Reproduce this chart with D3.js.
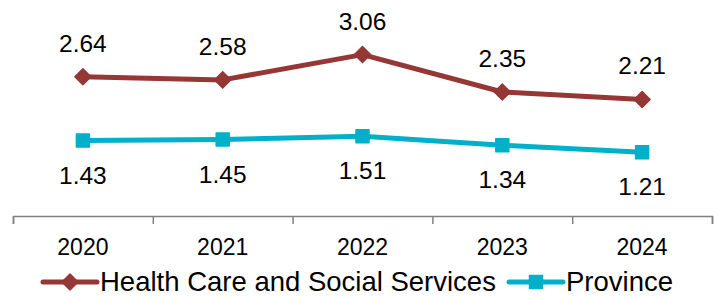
<!DOCTYPE html>
<html>
<head lang="en">
    <meta charset="UTF-8">
    <title></title>
    <script src="https://cdn.jsdelivr.net/npm/d3@7"></script>
    <style>
        body { margin: 0; background: #fff; }
        text { font-family: "Liberation Sans", Arial, sans-serif; fill: #000; }
    </style>
</head>
<body>

<script>

    var years = ["2020", "2021", "2022", "2023", "2024"];
    var health = [2.64, 2.58, 3.06, 2.35, 2.21];
    var province = [1.43, 1.45, 1.51, 1.34, 1.21];
    var seriesNames = ["Health Care and Social Services", "Province"];

    var red = "#953735", teal = "#00AFC8";

    var svg = d3.select("body").append("svg")
            .attr("width", 719)
            .attr("height", 297);

    var x = d3.scaleBand().domain(years).range([13, 712]);
    var xEdge = d3.scaleLinear().domain([0, years.length]).range([13, 712]);
    var y = d3.scaleLinear().domain([0, 4]).range([216, 5]);
    var cx = function(d, i){ return x(years[i]) + x.bandwidth() / 2; };

    // axis line + boundary ticks
    var axis = svg.append("g")
            .attr("transform", "translate(0," + y(0) + ")")
            .call(d3.axisBottom(xEdge).tickValues(d3.range(years.length + 1)).tickSize(8).tickSizeOuter(8).tickFormat(""));
    axis.selectAll("path, line").attr("stroke", "#808080").attr("stroke-width", 1.5);

    svg.append("g").selectAll("text")
            .data(years)
            .enter()
            .append("text")
            .attr("x", function(d){ return x(d) + x.bandwidth() / 2; })
            .attr("y", 255)
            .attr("text-anchor", "middle")
            .style("font-size", "23px")
            .text(function(d){ return d; });

    var line = d3.line().x(cx).y(function(d){ return y(d); });

    function drawSeries(data, color, marker, labelOffset){
        var g = svg.append("g");
        g.append("path")
                .datum(data)
                .attr("d", line)
                .attr("fill", "none")
                .attr("stroke", color)
                .attr("stroke-width", 5)
                .attr("stroke-linejoin", "round");
        g.selectAll(".m").data(data).enter().append("path")
                .attr("transform", function(d, i){ return "translate(" + cx(d, i) + "," + y(d) + ")"; })
                .attr("d", marker)
                .attr("fill", color)
                .attr("stroke", color)
                .attr("stroke-width", 1.5)
                .attr("stroke-linejoin", "round");
        g.selectAll("text").data(data).enter().append("text")
                .attr("x", cx)
                .attr("y", function(d){ return y(d) + labelOffset; })
                .attr("text-anchor", "middle")
                .style("font-size", "24.5px")
                .text(function(d){ return d.toFixed(2); });
    }

    var diamond = "M0,-8L8,0L0,8L-8,0Z";
    var square = "M-6.5,-6.5H6.5V6.5H-6.5Z";

    drawSeries(health, red, diamond, -25);
    drawSeries(province, teal, square, 43);

    // legend
    var legend = [
        {name: seriesNames[0], color: red, marker: diamond, x: 43},
        {name: seriesNames[1], color: teal, marker: square, x: 509}
    ];
    var lg = svg.append("g").selectAll("g").data(legend).enter().append("g")
            .attr("transform", function(d){ return "translate(" + d.x + ",282)"; });
    lg.append("line").attr("x1", 0).attr("x2", 54)
            .attr("stroke", function(d){ return d.color; })
            .attr("stroke-width", 5).attr("stroke-linecap", "round");
    lg.append("path").attr("transform", "translate(27,0)")
            .attr("d", function(d){ return d.marker; })
            .attr("fill", function(d){ return d.color; })
            .attr("stroke", function(d){ return d.color; })
            .attr("stroke-width", 1.5).attr("stroke-linejoin", "round");
    lg.append("text").attr("x", 57).attr("y", 9)
            .style("font-size", "27.5px")
            .text(function(d){ return d.name; });

</script>
</body>
</html>
